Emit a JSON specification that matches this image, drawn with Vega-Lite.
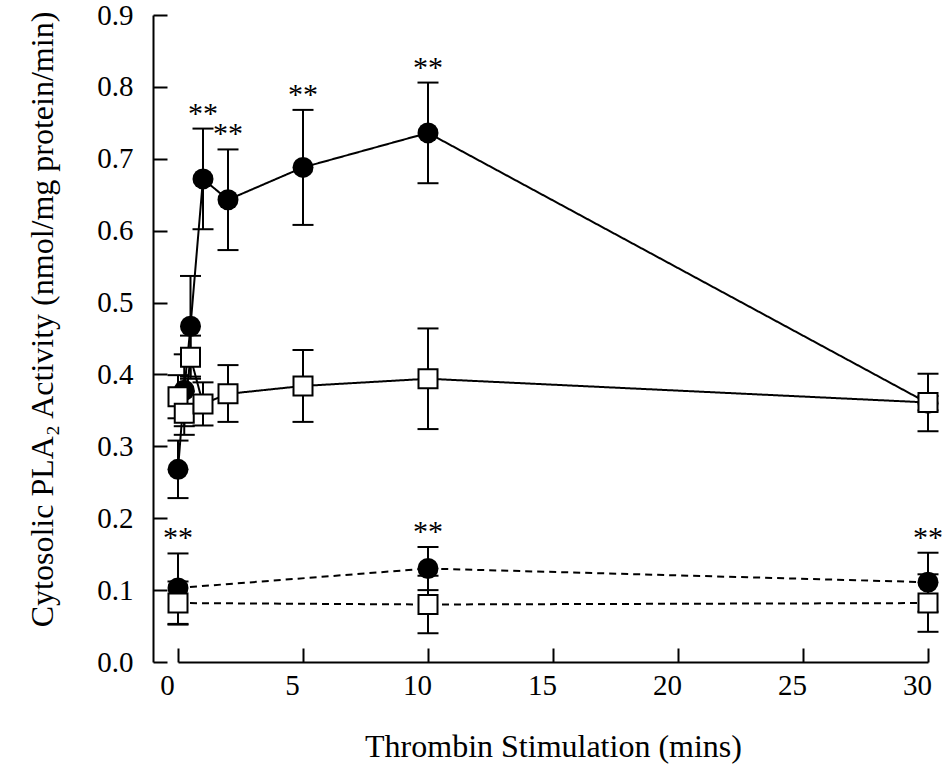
{
  "$schema": "https://vega.github.io/schema/vega-lite/v6.json",
  "width": 750,
  "height": 647,
  "autosize": {"type": "none"},
  "padding": {"left": 178, "top": 15, "right": 22, "bottom": 108},
  "background": "white",
  "config": {
    "view": {"stroke": null},
    "font": "Liberation Serif",
    "axis": {
      "grid": false,
      "domainColor": "black",
      "domainWidth": 2,
      "tickColor": "black",
      "tickWidth": 2,
      "tickSize": -14,
      "labelColor": "black",
      "titleColor": "black",
      "titleFontWeight": "normal"
    }
  },
  "data": {
    "values": [
      {"grp": "high", "marker": "filled", "time": 0, "value": 0.268, "lo": 0.228, "hi": 0.308, "sig": ""},
      {"grp": "high", "marker": "filled", "time": 0.25, "value": 0.378, "lo": 0.328, "hi": 0.428, "sig": ""},
      {"grp": "high", "marker": "filled", "time": 0.5, "value": 0.467, "lo": 0.397, "hi": 0.537, "sig": ""},
      {"grp": "high", "marker": "filled", "time": 1, "value": 0.672, "lo": 0.602, "hi": 0.742, "sig": "**"},
      {"grp": "high", "marker": "filled", "time": 2, "value": 0.643, "lo": 0.573, "hi": 0.713, "sig": "**"},
      {"grp": "high", "marker": "filled", "time": 5, "value": 0.688, "lo": 0.608, "hi": 0.768, "sig": "**"},
      {"grp": "high", "marker": "filled", "time": 10, "value": 0.736, "lo": 0.666, "hi": 0.806, "sig": "**"},
      {"grp": "high", "marker": "filled", "time": 30, "value": 0.36, "lo": 0.35, "hi": 0.37, "sig": ""},
      {"grp": "high", "marker": "open", "time": 0, "value": 0.369, "lo": 0.339, "hi": 0.399, "sig": ""},
      {"grp": "high", "marker": "open", "time": 0.25, "value": 0.346, "lo": 0.316, "hi": 0.376, "sig": ""},
      {"grp": "high", "marker": "open", "time": 0.5, "value": 0.424, "lo": 0.394, "hi": 0.454, "sig": ""},
      {"grp": "high", "marker": "open", "time": 1, "value": 0.359, "lo": 0.329, "hi": 0.389, "sig": ""},
      {"grp": "high", "marker": "open", "time": 2, "value": 0.373, "lo": 0.334, "hi": 0.413, "sig": ""},
      {"grp": "high", "marker": "open", "time": 5, "value": 0.384, "lo": 0.334, "hi": 0.434, "sig": ""},
      {"grp": "high", "marker": "open", "time": 10, "value": 0.394, "lo": 0.324, "hi": 0.464, "sig": ""},
      {"grp": "high", "marker": "open", "time": 30, "value": 0.361, "lo": 0.321, "hi": 0.401, "sig": ""},
      {"grp": "low", "marker": "filled", "time": 0, "value": 0.103, "lo": 0.053, "hi": 0.151, "sig": "**"},
      {"grp": "low", "marker": "filled", "time": 10, "value": 0.13, "lo": 0.1, "hi": 0.16, "sig": "**"},
      {"grp": "low", "marker": "filled", "time": 30, "value": 0.111, "lo": 0.07, "hi": 0.152, "sig": "**"},
      {"grp": "low", "marker": "open", "time": 0, "value": 0.082, "lo": 0.052, "hi": 0.112, "sig": ""},
      {"grp": "low", "marker": "open", "time": 10, "value": 0.08, "lo": 0.04, "hi": 0.12, "sig": ""},
      {"grp": "low", "marker": "open", "time": 30, "value": 0.082, "lo": 0.042, "hi": 0.122, "sig": ""}
    ]
  },
  "encoding": {
    "x": {
      "field": "time",
      "type": "quantitative",
      "scale": {"domain": [0, 30], "nice": false, "zero": false},
      "axis": {
        "title": "Thrombin Stimulation (mins)",
        "values": [0, 5, 10, 15, 20, 25, 30],
        "labelFont": "Liberation Serif",
        "labelFontSize": 29,
        "labelFlush": false,
        "labelPadding": 23,
        "labelOffset": -11,
        "titleFont": "Liberation Serif",
        "titleFontSize": 32,
        "titlePadding": 31
      }
    },
    "y": {
      "field": "value",
      "type": "quantitative",
      "scale": {"domain": [0, 0.9], "nice": false},
      "axis": {
        "title": "Cytosolic PLA₂ Activity (nmol/mg protein/min)",
        "values": [0, 0.1, 0.2, 0.3, 0.4, 0.5, 0.6, 0.7, 0.8, 0.9],
        "format": ".1f",
        "offset": 25,
        "labelFont": "Liberation Serif",
        "labelFontSize": 29,
        "labelPadding": 34,
        "titleFont": "Liberation Serif",
        "titleFontSize": 32,
        "titlePadding": 37,
        "titleY": 304
      }
    }
  },
  "layer": [
    {
      "transform": [{"filter": "datum.marker === 'filled'"}],
      "layer": [
        {"mark": {"type": "rule", "color": "black", "strokeWidth": 2}, "encoding": {"y": {"field": "lo", "type": "quantitative"}, "y2": {"field": "hi"}}},
        {"mark": {"type": "tick", "orient": "horizontal", "color": "black", "size": 21, "thickness": 2, "opacity": 1}, "encoding": {"y": {"field": "lo", "type": "quantitative"}}},
        {"mark": {"type": "tick", "orient": "horizontal", "color": "black", "size": 21, "thickness": 2, "opacity": 1}, "encoding": {"y": {"field": "hi", "type": "quantitative"}}},
        {"mark": {"type": "line", "color": "black", "strokeWidth": 2}, "encoding": {"detail": {"field": "grp"}, "strokeDash": {"field": "grp", "type": "nominal", "scale": {"domain": ["high", "low"], "range": [[1, 0], [7, 5]]}, "legend": null}}},
        {"mark": {"type": "point", "shape": "circle", "filled": true, "color": "black", "size": 441, "opacity": 1}}
      ]
    },
    {
      "transform": [{"filter": "datum.marker === 'open'"}],
      "layer": [
        {"mark": {"type": "rule", "color": "black", "strokeWidth": 2}, "encoding": {"y": {"field": "lo", "type": "quantitative"}, "y2": {"field": "hi"}}},
        {"mark": {"type": "tick", "orient": "horizontal", "color": "black", "size": 21, "thickness": 2, "opacity": 1}, "encoding": {"y": {"field": "lo", "type": "quantitative"}}},
        {"mark": {"type": "tick", "orient": "horizontal", "color": "black", "size": 21, "thickness": 2, "opacity": 1}, "encoding": {"y": {"field": "hi", "type": "quantitative"}}},
        {"mark": {"type": "line", "color": "black", "strokeWidth": 2}, "encoding": {"detail": {"field": "grp"}, "strokeDash": {"field": "grp", "type": "nominal", "scale": {"domain": ["high", "low"], "range": [[1, 0], [7, 5]]}, "legend": null}}},
        {"mark": {"type": "point", "shape": "square", "filled": true, "fill": "white", "stroke": "black", "strokeWidth": 2, "size": 361, "opacity": 1}}
      ]
    },
    {
      "transform": [{"filter": "datum.sig === '**'"}],
      "mark": {"type": "text", "font": "Liberation Serif", "fontSize": 30, "color": "black", "baseline": "middle", "align": "center", "dy": -15},
      "encoding": {"y": {"field": "hi", "type": "quantitative"}, "text": {"field": "sig"}}
    }
  ]
}
